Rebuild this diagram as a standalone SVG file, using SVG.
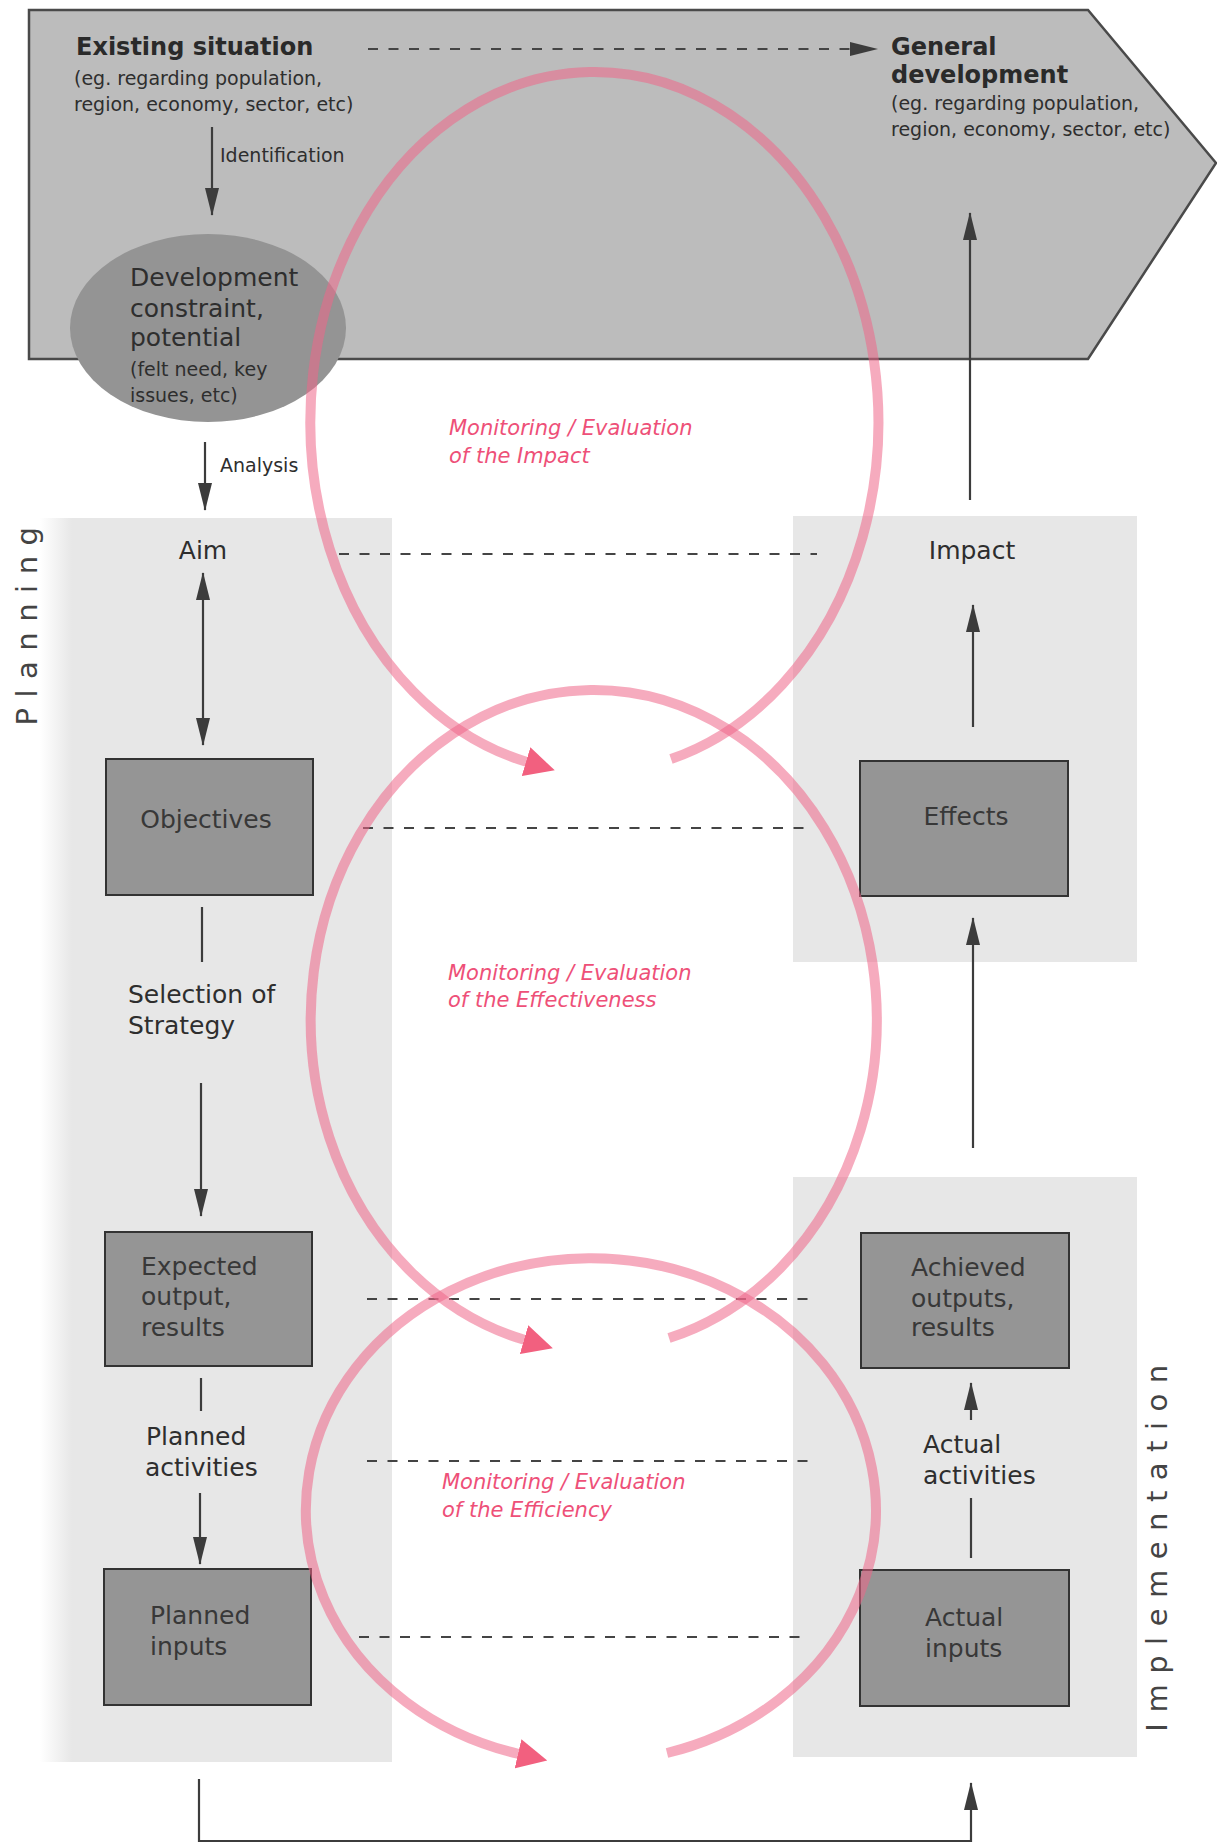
<svg xmlns="http://www.w3.org/2000/svg" width="1217" height="1845" viewBox="0 0 1217 1845">
  <style>
    .lbl { font-family: "DejaVu Sans", "Liberation Sans", sans-serif; font-size: 25px; fill: #2e2e2e; }
    .small { font-family: "DejaVu Sans", "Liberation Sans", sans-serif; font-size: 19px; fill: #2e2e2e; }
    .head { font-family: "DejaVu Sans", "Liberation Sans", sans-serif; font-size: 24px; font-weight: bold; fill: #2a2a2a; }
    .boxtxt { font-family: "DejaVu Sans", "Liberation Sans", sans-serif; font-size: 25px; fill: #383838; }
    .me { font-family: "DejaVu Sans", "Liberation Sans", sans-serif; font-size: 21px; font-style: italic; fill: #ee5078; }
    .phase { font-family: "DejaVu Sans", "Liberation Sans", sans-serif; font-size: 29px; letter-spacing: 10.5px; fill: #444; }
    .box { fill: #959595; stroke: #333; stroke-width: 2; }
    .arrow { stroke: #3c3c3c; stroke-width: 2.2; fill: none; }
    .dash { stroke: #444; stroke-width: 2; stroke-dasharray: 10 10.5; fill: none; }
    .loop { stroke: #ee6688; stroke-opacity: 0.55; stroke-width: 10; fill: none; }
  </style>
  <defs>
    <marker id="arr" markerUnits="userSpaceOnUse" markerWidth="28" markerHeight="14" refX="27" refY="7" orient="auto-start-reverse">
      <path d="M0,0 L28,7 L0,14 z" fill="#3c3c3c"/>
    </marker>
    <marker id="redArr" markerUnits="userSpaceOnUse" markerWidth="30" markerHeight="30" refX="1" refY="15" orient="auto">
      <path d="M0,0 L30,15 L0,30 z" fill="#f2607f"/>
    </marker>
    <!-- soft left edge of the planning band -->
    <linearGradient id="planFade" gradientUnits="userSpaceOnUse" x1="40" y1="0" x2="72" y2="0">
      <stop offset="0" stop-color="#e7e7e7" stop-opacity="0"/>
      <stop offset="1" stop-color="#e7e7e7"/>
    </linearGradient>
  </defs>

  <rect width="1217" height="1845" fill="#ffffff"/>

  <!-- phase backgrounds -->
  <g id="planning-area">
    <rect x="40" y="518" width="352" height="1244" fill="url(#planFade)"/>
    <text class="phase" transform="translate(37,621) rotate(-90)" text-anchor="middle">Planning</text>
  </g>
  <g id="implementation-area">
    <rect x="793" y="516" width="344" height="446" fill="#e7e7e7"/>
    <rect x="793" y="1177" width="344" height="580" fill="#e7e7e7"/>
    <text class="phase" transform="translate(1167,1543) rotate(-90)" text-anchor="middle">Implementation</text>
  </g>

  <!-- context banner -->
  <g id="existing-situation">
    <polygon points="29,10 1088,10 1216,163 1088,359 29,359" fill="#bcbcbc" stroke="#4a4a4a" stroke-width="2.5"/>
    <text class="head" x="76" y="55">Existing situation</text>
    <text class="small" x="74" y="85">(eg. regarding population,</text>
    <text class="small" x="74" y="111">region, economy, sector, etc)</text>
  </g>
  <g id="general-development">
    <text class="head" x="891" y="55">General</text>
    <text class="head" x="891" y="83">development</text>
    <text class="small" x="891" y="110">(eg. regarding population,</text>
    <text class="small" x="891" y="136">region, economy, sector, etc)</text>
  </g>
  <g id="development-constraint">
    <ellipse cx="208" cy="328" rx="138" ry="94" fill="#949494"/>
    <text class="lbl" x="130" y="286" fill="#3a3a3a">Development</text>
    <text class="lbl" x="130" y="317" fill="#3a3a3a">constraint,</text>
    <text class="lbl" x="130" y="346" fill="#3a3a3a">potential</text>
    <text class="small" x="130" y="376" fill="#3a3a3a">(felt need, key</text>
    <text class="small" x="130" y="402" fill="#3a3a3a">issues, etc)</text>
  </g>

  <!-- planning side -->
  <g id="aim"><text class="lbl" x="203" y="559" text-anchor="middle">Aim</text></g>
  <g id="objectives">
    <rect class="box" x="106" y="759" width="207" height="136"/>
    <text class="boxtxt" x="206" y="828" text-anchor="middle">Objectives</text>
  </g>
  <g id="selection-of-strategy">
    <text class="lbl" x="128" y="1003">Selection of</text>
    <text class="lbl" x="128" y="1034">Strategy</text>
  </g>
  <g id="expected-output">
    <rect class="box" x="105" y="1232" width="207" height="134"/>
    <text class="boxtxt" x="141" y="1275">Expected</text>
    <text class="boxtxt" x="141" y="1305">output,</text>
    <text class="boxtxt" x="141" y="1336">results</text>
  </g>
  <g id="planned-activities">
    <text class="lbl" x="146" y="1445">Planned</text>
    <text class="lbl" x="145" y="1476">activities</text>
  </g>
  <g id="planned-inputs">
    <rect class="box" x="104" y="1569" width="207" height="136"/>
    <text class="boxtxt" x="150" y="1624">Planned</text>
    <text class="boxtxt" x="150" y="1655">inputs</text>
  </g>

  <!-- implementation side -->
  <g id="impact"><text class="lbl" x="972" y="559" text-anchor="middle">Impact</text></g>
  <g id="effects">
    <rect class="box" x="860" y="761" width="208" height="135"/>
    <text class="boxtxt" x="966" y="825" text-anchor="middle">Effects</text>
  </g>
  <g id="achieved-outputs">
    <rect class="box" x="861" y="1233" width="208" height="135"/>
    <text class="boxtxt" x="911" y="1276">Achieved</text>
    <text class="boxtxt" x="911" y="1307">outputs,</text>
    <text class="boxtxt" x="911" y="1336">results</text>
  </g>
  <g id="actual-activities">
    <text class="lbl" x="923" y="1453">Actual</text>
    <text class="lbl" x="923" y="1484">activities</text>
  </g>
  <g id="actual-inputs">
    <rect class="box" x="860" y="1570" width="209" height="136"/>
    <text class="boxtxt" x="925" y="1626">Actual</text>
    <text class="boxtxt" x="925" y="1657">inputs</text>
  </g>

  <!-- connectors -->
  <g id="connectors">
    <line class="dash" x1="368" y1="49" x2="877" y2="49" stroke-dasharray="20 27" marker-end="url(#arr)"/>
    <line class="arrow" x1="212" y1="127" x2="212" y2="215" marker-end="url(#arr)"/>
    <text class="small" x="220" y="162" font-size="18.5">Identification</text>
    <line class="arrow" x1="205" y1="442" x2="205" y2="510" marker-end="url(#arr)"/>
    <text class="small" x="220" y="472">Analysis</text>
    <line class="arrow" x1="203" y1="573" x2="203" y2="745" marker-start="url(#arr)" marker-end="url(#arr)"/>
    <line class="arrow" x1="202" y1="907" x2="202" y2="962"/>
    <line class="arrow" x1="201" y1="1083" x2="201" y2="1216" marker-end="url(#arr)"/>
    <line class="arrow" x1="201" y1="1378" x2="201" y2="1411"/>
    <line class="arrow" x1="200" y1="1493" x2="200" y2="1564" marker-end="url(#arr)"/>
    <polyline class="arrow" points="199,1779 199,1841 971,1841 971,1783" marker-end="url(#arr)"/>
    <line class="arrow" x1="971" y1="1558" x2="971" y2="1498"/>
    <line class="arrow" x1="971" y1="1420" x2="971" y2="1383" marker-end="url(#arr)"/>
    <line class="arrow" x1="973" y1="1148" x2="973" y2="918" marker-end="url(#arr)"/>
    <line class="arrow" x1="973" y1="727" x2="973" y2="605" marker-end="url(#arr)"/>
    <line class="arrow" x1="970" y1="500" x2="970" y2="213" marker-end="url(#arr)"/>

    <!-- plan / actual correspondences -->
    <line class="dash" x1="339" y1="554" x2="817" y2="554"/>
    <line class="dash" x1="363" y1="828" x2="806" y2="828"/>
    <line class="dash" x1="367" y1="1299" x2="810" y2="1299"/>
    <line class="dash" x1="367" y1="1461" x2="810" y2="1461"/>
    <line class="dash" x1="359" y1="1637" x2="800" y2="1637"/>

    <!-- monitoring / evaluation loops -->
    <path class="loop" d="M 671,759 A 284 350 0 1 0 527,762" marker-end="url(#redArr)"/>
    <path class="loop" d="M 669,1338 A 283 330 0 1 0 525,1340" marker-end="url(#redArr)"/>
    <path class="loop" d="M 667,1753 A 285 252 0 1 0 519,1754" marker-end="url(#redArr)"/>
  </g>

  <g id="loop-labels">
    <text class="me" x="449" y="435">Monitoring / Evaluation</text>
    <text class="me" x="449" y="463">of the Impact</text>
    <text class="me" x="448" y="980">Monitoring / Evaluation</text>
    <text class="me" x="448" y="1007">of the Effectiveness</text>
    <text class="me" x="442" y="1489">Monitoring / Evaluation</text>
    <text class="me" x="442" y="1517">of the Efficiency</text>
  </g>
</svg>
